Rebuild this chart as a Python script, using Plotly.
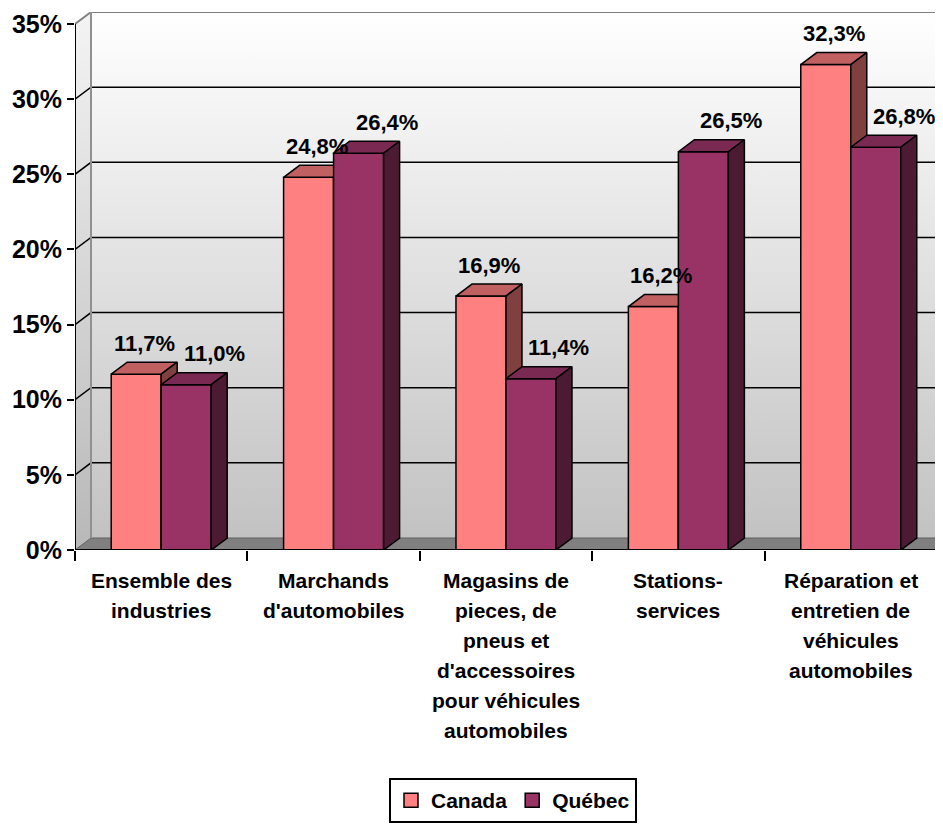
import plotly.graph_objects as go

# ---------------- data ----------------
categories = [
    "Ensemble des<br>industries",
    "Marchands<br>d'automobiles",
    "Magasins de<br>pieces, de<br>pneus et<br>d'accessoires<br>pour véhicules<br>automobiles",
    "Stations-<br>services",
    "Réparation et<br>entretien de<br>véhicules<br>automobiles",
]
series_names = ["Canada", "Québec"]
canada = [11.7, 24.8, 16.9, 16.2, 32.3]
quebec = [11.0, 26.4, 11.4, 26.5, 26.8]
y_ticks = [0, 5, 10, 15, 20, 25, 30, 35]
y_tick_labels = [f"{t}%" for t in y_ticks]

# ---------------- styling / geometry ----------------
FONT = "Liberation Sans, Arial, sans-serif"
PAGE_OFF = 8                      # default body margin of the html page
W, H = 943 - PAGE_OFF, 825 - PAGE_OFF
ML, MR, MT, MB = 75 - PAGE_OFF, 0, 12 - PAGE_OFF, 275
n = len(categories)
x_lo = -0.5
x_hi_axis = n - 0.5
px_per_x = (W - ML - MR) / 5.035
x_range = [x_lo, x_lo + (W - ML - MR) / px_per_x]
y_range = [0, 35.8]
px_per_y = (H - MT - MB) / (y_range[1] - y_range[0])

DX = 16 / px_per_x      # depth offset (x)
DY = 12 / px_per_y      # depth offset (y)
BW = 50 / px_per_x      # bar width

colors = {
    "Canada": dict(front="#FF8080", top="#C06060", side="#804040"),
    "Québec": dict(front="#993366", top="#7A2952", side="#4D1A33"),
}
label_xshift = {"Canada": 0, "Québec": 20}

fig = go.Figure()

def poly_trace(polys, fill, line_color="black", line_width=1.5, gradient=None):
    xs, ys = [], []
    for p in polys:
        for (a, b) in p:
            xs.append(a)
            ys.append(b)
        xs.append(p[0][0]); ys.append(p[0][1])
        xs.append(None); ys.append(None)
    kw = dict(x=xs, y=ys, mode="lines", fill="toself",
              line=dict(color=line_color, width=line_width),
              hoverinfo="skip", showlegend=False)
    if gradient is not None:
        kw["fillgradient"] = gradient
    else:
        kw["fillcolor"] = fill
    return go.Scatter(**kw)

# back wall
wall_grad = dict(type="vertical", colorscale=[[0, "#c2c2c2"], [1, "#ffffff"]])
fig.add_trace(poly_trace([[(x_lo + DX, DY), (x_hi_axis + DX, DY),
                           (x_hi_axis + DX, y_ticks[-1] + DY), (x_lo + DX, y_ticks[-1] + DY)]],
                         None, line_width=0, gradient=wall_grad))
# side wall
side_grad = dict(type="vertical", colorscale=[[0, "#b8b8b8"], [1, "#f4f4f4"]])
fig.add_trace(poly_trace([[(x_lo, 0), (x_lo + DX, DY),
                           (x_lo + DX, y_ticks[-1] + DY), (x_lo, y_ticks[-1])]],
                         None, line_width=0, gradient=side_grad))
# floor
fig.add_trace(poly_trace([[(x_lo, 0), (x_lo + DX, DY), (x_hi_axis + DX, DY), (x_hi_axis, 0)]],
                         "#808080", line_color="#606060", line_width=1))

# gridlines on side + back wall
for t in y_ticks[1:-1]:
    fig.add_trace(go.Scatter(x=[x_lo, x_lo + DX, x_hi_axis + DX], y=[t, t + DY, t + DY],
                             mode="lines", line=dict(color="black", width=1.5),
                             hoverinfo="skip", showlegend=False))
# wall border (top + back left edge)
t_top = y_ticks[-1]
fig.add_trace(go.Scatter(x=[x_lo, x_lo + DX, x_hi_axis + DX], y=[t_top, t_top + DY, t_top + DY],
                         mode="lines", line=dict(color="#808080", width=2),
                         hoverinfo="skip", showlegend=False))
fig.add_trace(go.Scatter(x=[x_lo + DX, x_lo + DX], y=[DY, t_top + DY],
                         mode="lines", line=dict(color="#909090", width=2),
                         hoverinfo="skip", showlegend=False))

# bars
for s_idx, (name, vals) in enumerate(zip(series_names, [canada, quebec])):
    fronts, tops, sides = [], [], []
    for i, v in enumerate(vals):
        x0 = i - BW + s_idx * BW
        x1 = x0 + BW
        fronts.append([(x0, 0), (x1, 0), (x1, v), (x0, v)])
        tops.append([(x0, v), (x1, v), (x1 + DX, v + DY), (x0 + DX, v + DY)])
        sides.append([(x1, 0), (x1 + DX, DY), (x1 + DX, v + DY), (x1, v)])
    c = colors[name]
    fig.add_trace(poly_trace(fronts, c["front"]))
    fig.add_trace(poly_trace(tops, c["top"]))
    fig.add_trace(poly_trace(sides, c["side"]))

# front axis lines
fig.add_trace(go.Scatter(x=[x_lo, x_lo], y=[0, y_ticks[-1]], mode="lines",
                         line=dict(color="black", width=2), hoverinfo="skip", showlegend=False))
fig.add_trace(go.Scatter(x=[x_lo, x_hi_axis], y=[0, 0], mode="lines",
                         line=dict(color="black", width=2), hoverinfo="skip", showlegend=False))

# legend entries
for name in series_names:
    fig.add_trace(go.Scatter(x=[None], y=[None], mode="markers", name=name,
                             marker=dict(symbol="square", size=14, color=colors[name]["front"],
                                         line=dict(color="black", width=1.5))))

annotations = []
# data labels
for s_idx, (name, vals) in enumerate(zip(series_names, [canada, quebec])):
    for i, v in enumerate(vals):
        xc = i - BW / 2 + s_idx * BW + DX / 2
        annotations.append(dict(x=xc, y=v, xref="x", yref="y",
                                text=f"{v:.1f}".replace(".", ",") + "%",
                                showarrow=False, yanchor="middle", yshift=31,
                                xshift=label_xshift[name],
                                font=dict(family=FONT, size=22, color="black", weight="bold")))
# category labels (one annotation per line)
for i, cat in enumerate(categories):
    for j, line in enumerate(cat.split("<br>")):
        annotations.append(dict(x=i, y=0, xref="x", yref="y", text=line,
                                showarrow=False, yanchor="middle", yshift=-(30 + 30 * j),
                                font=dict(family=FONT, size=21, color="black", weight="bold")))

fig.update_layout(
    width=W, height=H,
    margin=dict(l=ML, r=MR, t=MT, b=MB, autoexpand=False),
    paper_bgcolor="white", plot_bgcolor="white",
    font=dict(family=FONT, color="black"),
    xaxis=dict(range=x_range, showgrid=False, zeroline=False, showline=False,
               tickmode="array", tickvals=[i - 0.5 for i in range(n + 1)],
               showticklabels=False, ticks="outside", ticklen=10, tickwidth=2,
               tickcolor="black", fixedrange=True, automargin=False),
    yaxis=dict(range=y_range, showgrid=False, zeroline=False, showline=False,
               tickmode="array", tickvals=y_ticks, ticktext=y_tick_labels,
               ticks="outside", ticklen=7, tickwidth=2, tickcolor="black",
               tickfont=dict(family=FONT, size=25, color="black", weight="bold"),
               fixedrange=True, automargin=False),
    showlegend=True,
    legend=dict(orientation="h", x=(513 - 75) / (W - ML - MR), xanchor="center",
                y=(550 - 778) / (H - MT - MB), yanchor="top",
                bordercolor="black", borderwidth=2, bgcolor="white",
                font=dict(family=FONT, size=21, color="black", weight="bold"),
                itemwidth=30, traceorder="normal", tracegroupgap=0),
    annotations=annotations,
)

fig.write_html("out.html")
